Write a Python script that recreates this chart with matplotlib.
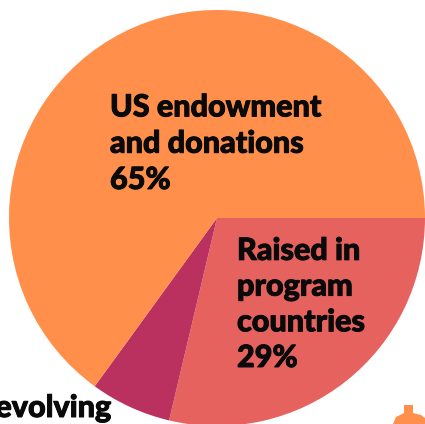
import matplotlib
matplotlib.use("Agg")
import matplotlib.pyplot as plt
import matplotlib.patheffects as pe

# Shares of funding (clockwise from east)
labels = ["Raised in\nprogram\ncountries\n29%", "evolving", "US endowment\nand donations\n65%"]
values = [28.7, 6.3, 65]
colors = ["#E5625F", "#BA305E", "#FF8F4A"]

H = 424

fig = plt.figure(figsize=(4.25, 4.24), dpi=100)
ax = fig.add_axes([0, 0, 1, 1])

# pie centre and radius in pixels
ax.pie(values, colors=colors, startangle=0, counterclock=False,
       center=(217, H - 218), radius=208, frame=True)
ax.set_xlim(0, 425)
ax.set_ylim(0, H)
ax.set_aspect("auto")
ax.axis("off")

# thin stroke to get closer to the heavy face of the original
heavy = [pe.withStroke(linewidth=0.7, foreground="#0A0A0A")]
font = dict(family=["Lato", "DejaVu Sans"], fontweight="black", color="#0A0A0A",
            fontsize=22, path_effects=heavy)
ax.text(110, H - 189, labels[2], va="baseline", ha="left", linespacing=1.36, **font)
ax.text(237, H - 367, labels[0], va="baseline", ha="left", linespacing=1.335, **font)
ax.text(111, H - 417, labels[1], va="baseline", ha="right", clip_on=False, **font)

# small orange icon cut off in the bottom right corner
icon_x = [393, 396, 404, 404, 413, 413, 421, 425, 425, 393]
icon_y = [424, 417, 413, 405, 405, 413, 415, 418, 424, 424]
ax.fill(icon_x, [H - y for y in icon_y], color=colors[2], lw=0)

fig.savefig("out.png", dpi=100)
